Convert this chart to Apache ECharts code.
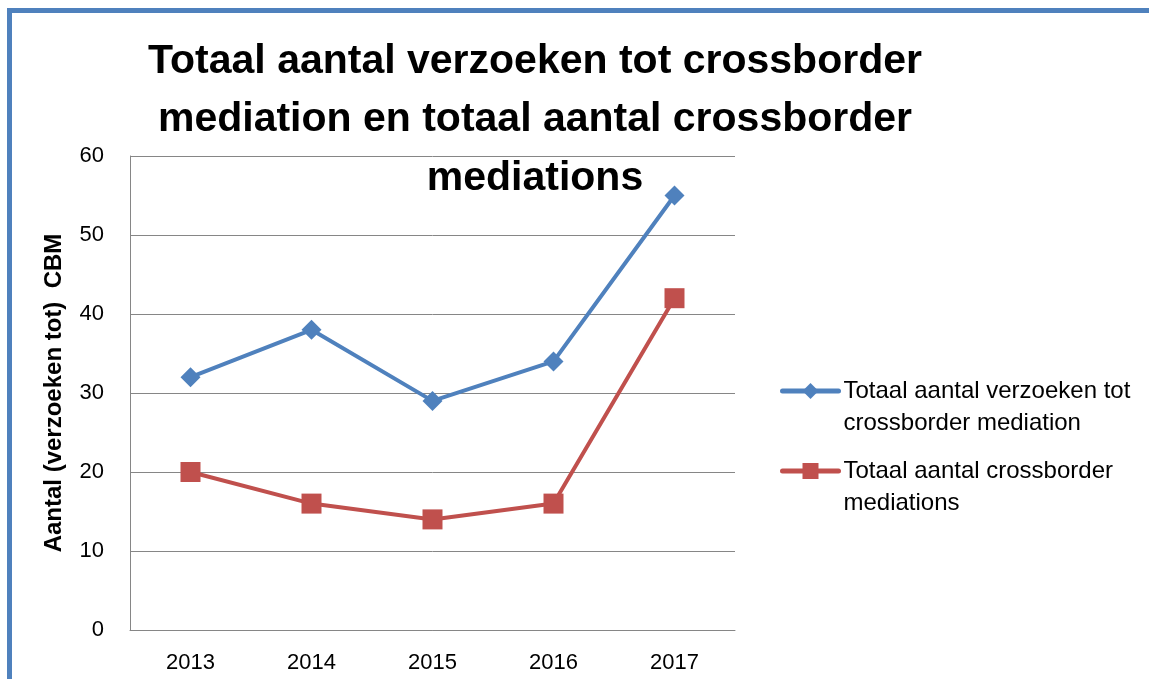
<!DOCTYPE html>
<html><head><meta charset="utf-8">
<script src="https://cdn.jsdelivr.net/npm/echarts@6/dist/echarts.min.js"></script>
<style>html,body{margin:0;padding:0;background:#fff}#c{width:1149px;height:679px}</style>
</head><body><div id="c"></div>
<script>
const categories = ['2013', '2014', '2015', '2016', '2017'];
const requests = [32, 38, 29, 34, 55];
const mediations = [20, 16, 14, 16, 42];
const seriesNames = ['Totaal aantal verzoeken tot\ncrossborder mediation', 'Totaal aantal crossborder\nmediations'];
const yTicks = [0, 10, 20, 30, 40, 50, 60];

const chart = echarts.init(document.getElementById('c'));
const font = 'Liberation Sans, Arial, sans-serif';
function legendAt(name, top) {
  return {
    orient: 'vertical', left: 780, top: top, padding: 0,
    data: [name],
    itemWidth: 56, itemHeight: 20, itemGap: 0,
    lineStyle: { width: 5, cap: 'round' },
    formatter: n => '{e| }\n' + n.split('\n').map(s => '{t|' + s + '}').join('\n'),
    textStyle: {
      fontFamily: font, color: '#000', fontSize: 24,
      rich: { e: { fontSize: 24, lineHeight: 32 }, t: { fontSize: 24, lineHeight: 32, color: '#000', fontFamily: font } }
    }
  };
}
chart.setOption({
  animation: false,
  textStyle: { fontFamily: font },
  title: {
    text: 'Totaal aantal verzoeken tot crossborder\nmediation en totaal aantal crossborder\nmediations',
    left: 530, top: 27, textAlign: 'center',
    textStyle: { fontSize: 41, fontWeight: 'bold', color: '#000', lineHeight: 58.5, fontFamily: font }
  },
  graphic: [{
    type: 'rect', shape: { x: 9.5, y: 10.5, width: 1200, height: 700 },
    style: { fill: 'none', stroke: '#4F81BD', lineWidth: 5 }, silent: true
  }],
  grid: { left: 130, right: 414, top: 156, bottom: 49, containLabel: false },
  legend: [legendAt(seriesNames[0], 347), legendAt(seriesNames[1], 427)],
  xAxis: {
    type: 'category', data: categories, boundaryGap: true,
    axisLine: { lineStyle: { color: '#868686', width: 1 } },
    axisTick: { show: false },
    axisLabel: { fontSize: 22, color: '#000', margin: 22 }
  },
  yAxis: {
    type: 'value', min: yTicks[0], max: yTicks[yTicks.length - 1], interval: 10,
    name: 'Aantal (verzoeken tot)  CBM', nameLocation: 'middle', nameGap: 64, nameRotate: 90,
    nameTextStyle: { fontSize: 24, fontWeight: 'bold', color: '#000' },
    axisLine: { show: true, lineStyle: { color: '#868686', width: 1 } },
    axisTick: { show: false },
    splitLine: { lineStyle: { color: '#868686', width: 1 } },
    axisLabel: { fontSize: 22, color: '#000', margin: 26 }
  },
  series: [
    {
      name: seriesNames[0], type: 'line', data: requests,
      symbol: 'diamond', symbolSize: 20,
      lineStyle: { color: '#4F81BD', width: 4 },
      itemStyle: { color: '#4F81BD' }
    },
    {
      name: seriesNames[1], type: 'line', data: mediations,
      symbol: 'rect', symbolSize: 20,
      lineStyle: { color: '#C0504D', width: 4 },
      itemStyle: { color: '#C0504D' }
    }
  ]
});
</script></body></html>
